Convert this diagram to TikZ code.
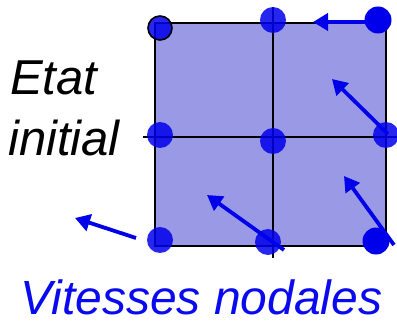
\documentclass[tikz,border=0pt]{standalone}
\usepackage{fontspec}
\setmainfont{Liberation Sans}
\usetikzlibrary{arrows.meta}
\definecolor{cellfill}{RGB}{153,153,230}
\definecolor{nodeblue}{RGB}{0,0,235}
\definecolor{txtblue}{RGB}{10,10,240}
\tikzset{
  gridline/.style={draw=black,line width=2.2pt},
  dot/.style={circle,inner sep=0pt,minimum size=26pt,fill=nodeblue,fill opacity=0.85},
  soliddot/.style={circle,inner sep=0pt,minimum size=27pt,fill=nodeblue},
  vel/.style={draw=nodeblue,line width=3.8pt,-{Triangle[length=15pt,width=17pt]}},
  bigtext/.style={inner sep=0pt,anchor=base west,text depth=0pt,font=\fontsize{49}{58}\selectfont\itshape}
}
\begin{document}
\begin{tikzpicture}[x=1pt,y=-1pt]
\useasboundingbox (0,0) rectangle (397,321);
% cells
\fill[cellfill] (155,23) rectangle (386,246);
\draw[gridline] (155,23) rectangle (386,246);
\draw[gridline] (273,7) -- (273,258);
\draw[gridline] (143,137) -- (397,137);
% arrow endpoints
\coordinate (t1) at (378,22);  \coordinate (h1) at (313,22);
\coordinate (t2) at (388,134); \coordinate (h2) at (332,79);
\coordinate (t3) at (284,250); \coordinate (h3) at (207,195);
\coordinate (t4) at (394,245); \coordinate (h4) at (344,176);
\coordinate (t5) at (136,238); \coordinate (h5) at (75,218);
\draw[vel] (t1) -- (h1);
\draw[vel] (t2) -- (h2);
\draw[vel] (t3) -- (h3);
\draw[vel] (t4) -- (h4);
\draw[vel] (t5) -- (h5);
% nodes
\node[dot,draw=black,draw opacity=1,line width=1.6pt,minimum size=24pt] (tl) at (160,28) {};
\node[dot] (tm) at (273,20) {};
\node[dot] (ml) at (160,135) {};
\node[dot] (c) at (273,141) {};
\node[dot] (mr) at (386,135) {};
\node[dot] (bl) at (160,240) {};
\node[dot] (bm) at (268,242) {};
\node[soliddot] (tr) at (378,20) {};
\node[soliddot] (br) at (376,241) {};
% labels
\node[bigtext] (etat) at (10,95) {Etat};
\node[bigtext] (init) at (8,156) {initial};
\node[bigtext,text=txtblue,font=\fontsize{48}{56}\selectfont\itshape] (vit) at (20,314) {Vitesses nodales};
\end{tikzpicture}
\end{document}
